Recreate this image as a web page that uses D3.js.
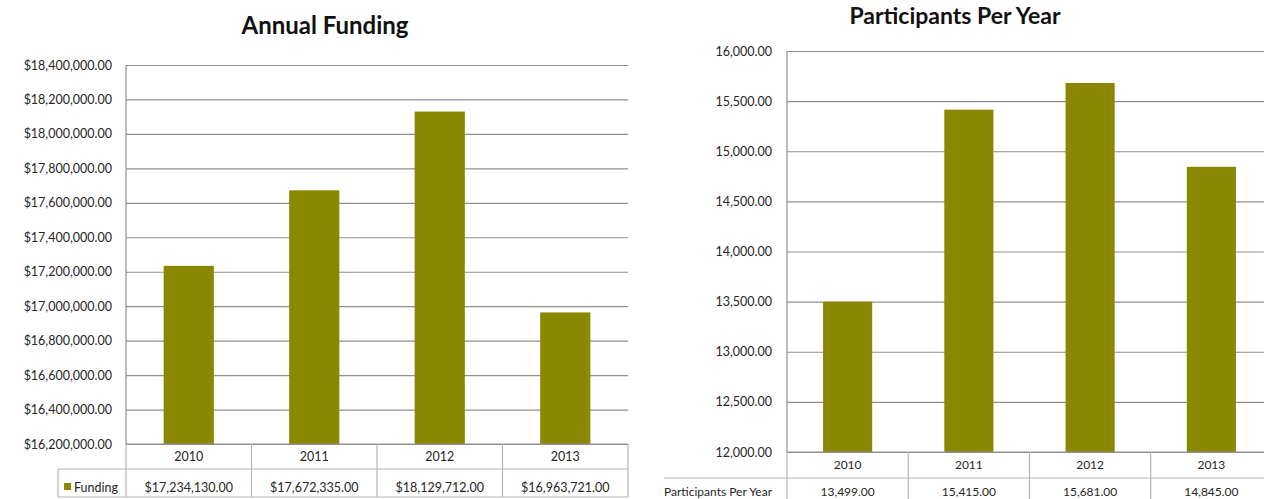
<!DOCTYPE html>
<html>
<head>
<meta charset="utf-8">
<script src="https://cdn.jsdelivr.net/npm/d3@7/dist/d3.min.js"></script>
<style>
  html, body { margin: 0; padding: 0; background: #fff; overflow: hidden; }
  svg { display: block; font-family: Lato, "Open Sans", sans-serif; }
</style>
</head>
<body>
<svg id="chart" width="1264" height="499"></svg>
<script>
// ---- data ----
const years = ["2010", "2011", "2012", "2013"];
const funding = [17234130, 17672335, 18129712, 16963721];
const participants = [13499, 15415, 15681, 14845];
const fundingTicks = [16200000, 16400000, 16600000, 16800000, 17000000, 17200000,
                      17400000, 17600000, 17800000, 18000000, 18200000, 18400000];
const participantTicks = [12000, 12500, 13000, 13500, 14000, 14500, 15000, 15500, 16000];

const barColor = "#8a8800";
const gridColor = "#8f8f8f";
const tableColor = "#b4b4b4";
const textColor = "#262626";

const svg = d3.select("#chart");

function drawChart(opt) {
  const g = svg.append("g");
  const x = d3.scaleBand().domain(years).range([opt.left, opt.right]).padding(0);
  const y = d3.scaleLinear().domain(opt.domain).range([opt.bottom, opt.top]);

  // title
  g.append("text")
    .attr("x", opt.titleX).attr("y", opt.titleY)
    .attr("text-anchor", "middle")
    .attr("font-size", opt.titleSize).attr("font-weight", "bold")
    .attr("fill", "#111")
    .text(opt.title);

  // gridlines + tick labels via axis
  const axis = d3.axisLeft(y).tickValues(opt.ticks)
    .tickSize(-(opt.right - opt.left)).tickPadding(opt.tickPad)
    .tickFormat(opt.tickFormat);
  const ag = g.append("g").attr("transform", `translate(${opt.left},0)`).call(axis);
  ag.select(".domain").remove();
  ag.selectAll(".tick line").attr("stroke", gridColor).attr("stroke-width", 1.2);
  ag.selectAll(".tick text").attr("fill", textColor)
    .attr("font-size", opt.tickSize).style("font-family", "Lato, sans-serif");

  // left axis line
  g.append("line")
    .attr("x1", opt.left).attr("x2", opt.left)
    .attr("y1", y(opt.domain[1])).attr("y2", opt.bottom)
    .attr("stroke", gridColor).attr("stroke-width", 1.2);

  // bars
  const bw = x.bandwidth() * opt.barFrac;
  g.selectAll("rect.bar").data(opt.values).enter().append("rect")
    .attr("class", "bar")
    .attr("x", (d, i) => x(years[i]) + (x.bandwidth() - bw) / 2)
    .attr("y", d => y(d))
    .attr("width", bw)
    .attr("height", d => opt.bottom - y(d))
    .attr("fill", barColor);

  // data table
  const rowMid = opt.rowMid, rowBottom = opt.rowBottom;
  const t = g.append("g");
  t.append("line").attr("x1", opt.left).attr("x2", opt.right)
    .attr("y1", opt.bottom).attr("y2", opt.bottom)
    .attr("stroke", gridColor).attr("stroke-width", 1.2);
  t.append("line").attr("x1", opt.labelLeft).attr("x2", opt.right)
    .attr("y1", rowMid).attr("y2", rowMid)
    .attr("stroke", tableColor).attr("stroke-width", 1.2);
  if (opt.drawBottom) {
    t.append("line").attr("x1", opt.labelLeft).attr("x2", opt.right)
      .attr("y1", rowBottom).attr("y2", rowBottom)
      .attr("stroke", tableColor).attr("stroke-width", 1.2);
  }
  const edges = years.map(d => x(d)).concat([opt.right]);
  t.selectAll("line.v").data(edges).enter().append("line")
    .attr("class", "v")
    .attr("x1", d => d).attr("x2", d => d)
    .attr("y1", opt.bottom).attr("y2", rowBottom)
    .attr("stroke", tableColor).attr("stroke-width", 1.2);
  if (opt.labelBox) {
    t.append("line").attr("x1", opt.labelLeft).attr("x2", opt.labelLeft)
      .attr("y1", rowMid).attr("y2", rowBottom)
      .attr("stroke", tableColor).attr("stroke-width", 1.2);
  }
  t.selectAll("text.yr").data(years).enter().append("text")
    .attr("class", "yr")
    .attr("x", d => x(d) + x.bandwidth() / 2)
    .attr("y", opt.yearBase)
    .attr("text-anchor", "middle").attr("font-size", opt.tableSize)
    .attr("fill", textColor).text(d => d);
  t.selectAll("text.val").data(opt.values).enter().append("text")
    .attr("class", "val")
    .attr("x", (d, i) => x(years[i]) + x.bandwidth() / 2)
    .attr("y", opt.valBase)
    .attr("text-anchor", "middle").attr("font-size", opt.tableSize)
    .attr("fill", textColor).text(d => opt.valFormat(d));
  if (opt.legendMarker) {
    t.append("rect").attr("x", opt.labelLeft + 6).attr("y", opt.valBase - 9)
      .attr("width", 7).attr("height", 7).attr("fill", barColor);
  }
  t.append("text")
    .attr("x", opt.legendMarker ? opt.labelLeft + 16 : opt.labelLeft)
    .attr("y", opt.valBase)
    .attr("font-size", opt.tableSize).attr("fill", textColor)
    .text(opt.seriesName);
}

drawChart({
  title: "Annual Funding", titleX: 325, titleY: 34, titleSize: 24,
  values: funding, ticks: fundingTicks, domain: [16200000, 18400000],
  tickFormat: d3.format("$,.2f"), valFormat: d3.format("$,.2f"),
  left: 126, right: 628, top: 65, bottom: 444,
  tickPad: 14, tickSize: 12.5, tableSize: 12.5, barFrac: 0.4,
  rowMid: 469, rowBottom: 497, yearBase: 461, valBase: 492,
  labelLeft: 58, labelBox: true, drawBottom: true, legendMarker: true,
  seriesName: "Funding"
});

drawChart({
  title: "Participants Per Year", titleX: 955, titleY: 24, titleSize: 23,
  values: participants, ticks: participantTicks, domain: [12000, 16000],
  tickFormat: d3.format(",.2f"), valFormat: d3.format(",.2f"),
  left: 787, right: 1272, top: 51, bottom: 452,
  tickPad: 15, tickSize: 12.5, tableSize: 12, barFrac: 0.405,
  rowMid: 478, rowBottom: 510, yearBase: 469, valBase: 496,
  labelLeft: 664, labelBox: false, drawBottom: false, legendMarker: false,
  seriesName: "Participants Per Year"
});
</script>
</body>
</html>
